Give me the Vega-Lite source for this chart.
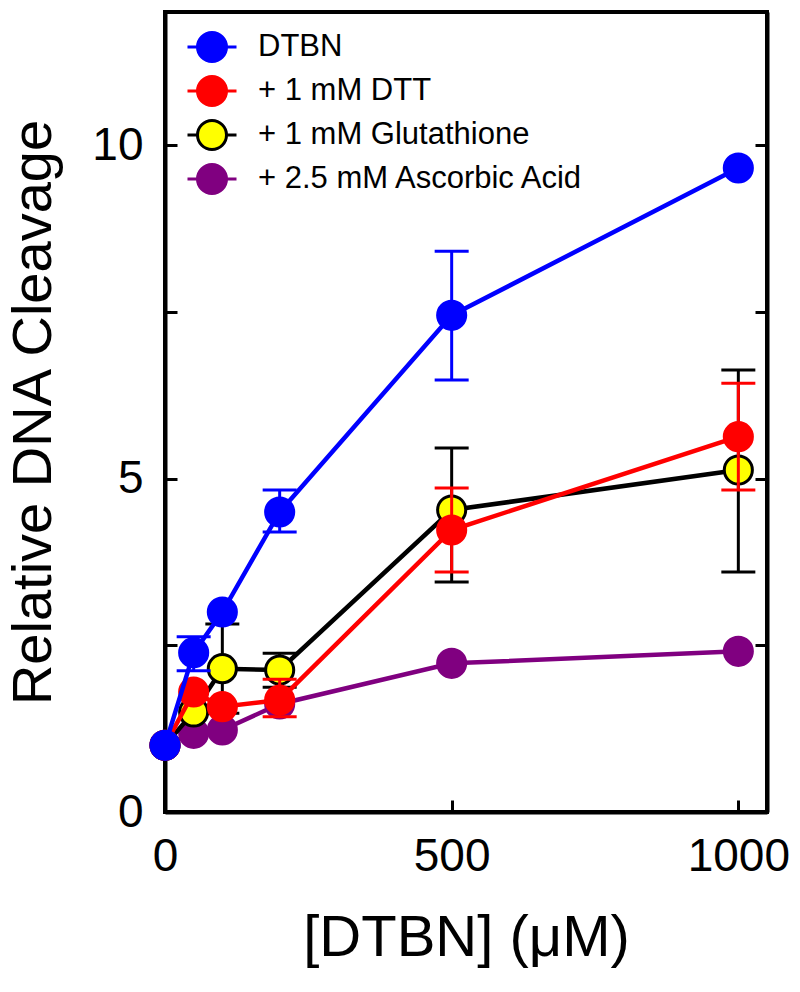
{
  "$schema": "https://vega.github.io/schema/vega-lite/v6.json",
  "width": 602,
  "height": 800,
  "autosize": "none",
  "padding": {"left": 165, "top": 12, "right": 33, "bottom": 180},
  "background": "white",
  "config": {
    "font": "Liberation Sans",
    "view": {"stroke": "black", "strokeWidth": 4},
    "tick": {"opacity": 1},
    "axis": {
      "grid": false,
      "domainColor": "black",
      "domainWidth": 4,
      "tickColor": "black",
      "tickWidth": 3,
      "tickSize": -12,
      "labelColor": "black",
      "labelFontSize": 46,
      "titleColor": "black",
      "titleFontWeight": "normal"
    },
    "legend": {
      "orient": "none",
      "legendX": 31,
      "legendY": 19,
      "direction": "vertical",
      "padding": 0,
      "symbolType": "M-1.69,0L-1,0M1,0L1.69,0M-1,0A1,1,0,1,1,1,0A1,1,0,1,1,-1,0Z",
      "symbolSize": 841,
      "symbolStrokeWidth": 3,
      "symbolOpacity": 1,
      "labelFontSize": 31,
      "labelColor": "black",
      "labelOffset": 30,
      "labelLimit": 0,
      "rowPadding": 2
    }
  },
  "data": {
    "values": [
      {"s": "+ 2.5 mM Ascorbic Acid", "x": 0, "y": 1.0},
      {"s": "+ 2.5 mM Ascorbic Acid", "x": 50, "y": 1.18},
      {"s": "+ 2.5 mM Ascorbic Acid", "x": 100, "y": 1.23},
      {"s": "+ 2.5 mM Ascorbic Acid", "x": 200, "y": 1.62},
      {"s": "+ 2.5 mM Ascorbic Acid", "x": 500, "y": 2.23},
      {"s": "+ 2.5 mM Ascorbic Acid", "x": 1000, "y": 2.41},
      {"s": "+ 1 mM Glutathione", "x": 0, "y": 1.0},
      {"s": "+ 1 mM Glutathione", "x": 50, "y": 1.5},
      {"s": "+ 1 mM Glutathione", "x": 100, "y": 2.15, "lo": 1.48, "hi": 2.82},
      {"s": "+ 1 mM Glutathione", "x": 200, "y": 2.13, "lo": 1.87, "hi": 2.38},
      {"s": "+ 1 mM Glutathione", "x": 500, "y": 4.53, "lo": 3.45, "hi": 5.46},
      {"s": "+ 1 mM Glutathione", "x": 1000, "y": 5.13, "lo": 3.6, "hi": 6.63},
      {"s": "+ 1 mM DTT", "x": 0, "y": 1.0},
      {"s": "+ 1 mM DTT", "x": 50, "y": 1.8},
      {"s": "+ 1 mM DTT", "x": 100, "y": 1.58},
      {"s": "+ 1 mM DTT", "x": 200, "y": 1.68, "lo": 1.43, "hi": 1.99},
      {"s": "+ 1 mM DTT", "x": 500, "y": 4.23, "lo": 3.6, "hi": 4.86},
      {"s": "+ 1 mM DTT", "x": 1000, "y": 5.63, "lo": 4.83, "hi": 6.43},
      {"s": "DTBN", "x": 0, "y": 1.0},
      {"s": "DTBN", "x": 50, "y": 2.39, "lo": 2.12, "hi": 2.63},
      {"s": "DTBN", "x": 100, "y": 3.0},
      {"s": "DTBN", "x": 200, "y": 4.5, "lo": 4.2, "hi": 4.83},
      {"s": "DTBN", "x": 500, "y": 7.45, "lo": 6.48, "hi": 8.41},
      {"s": "DTBN", "x": 1000, "y": 9.66}
    ]
  },
  "encoding": {
    "x": {
      "field": "x",
      "type": "quantitative",
      "scale": {"domain": [0, 1050], "nice": false, "zero": false},
      "axis": {
        "values": [0, 500, 1000],
        "format": "d",
        "labelFlush": false,
        "labelPadding": 34,
        "title": "[DTBN] (μM)",
        "titleFontSize": 58,
        "titlePadding": 30
      }
    }
  },
  "resolve": {"axis": {"y": "independent"}},
  "layer": [
    {
      "encoding": {
        "y": {
          "field": "y",
          "type": "quantitative",
          "scale": {"domain": [0, 12], "nice": false},
          "axis": {
            "values": [0, 2.5, 5, 7.5, 10],
            "labelExpr": "datum.value % 5 === 0 ? datum.label : ''",
            "labelPadding": 34,
            "title": "Relative DNA Cleavage",
            "titleFontSize": 56,
            "titlePadding": 29
          }
        },
        "stroke": {
          "field": "s",
          "type": "nominal",
          "scale": {
            "domain": ["DTBN", "+ 1 mM DTT", "+ 1 mM Glutathione", "+ 2.5 mM Ascorbic Acid"],
            "range": ["#0000ff", "#ff0000", "#000000", "#800080"]
          },
          "legend": {"title": null}
        }
      },
      "layer": [
        {
          "transform": [{"filter": "datum.s === '+ 2.5 mM Ascorbic Acid'"}],
          "layer": [
            {"mark": {"type": "line", "strokeWidth": 4.5}},
            {"mark": {"type": "point", "filled": true, "size": 790, "strokeWidth": 3, "opacity": 1}, "encoding": {"fill": {"field": "s", "type": "nominal", "scale": {"domain": ["DTBN", "+ 1 mM DTT", "+ 1 mM Glutathione", "+ 2.5 mM Ascorbic Acid"], "range": ["#0000ff", "#ff0000", "#ffff00", "#800080"]}, "legend": {"title": null}}}}
          ]
        },
        {
          "transform": [{"filter": "datum.s === '+ 1 mM Glutathione'"}],
          "layer": [
            {"mark": {"type": "line", "strokeWidth": 4.5}},
            {"mark": {"type": "rule", "strokeWidth": 3}, "encoding": {"y": {"field": "lo", "type": "quantitative"}, "y2": {"field": "hi"}}},
            {"mark": {"type": "tick", "orient": "horizontal", "size": 34, "thickness": 3, "fill": "#000000", "strokeWidth": 0, "opacity": 1}, "encoding": {"y": {"field": "lo", "type": "quantitative"}}},
            {"mark": {"type": "tick", "orient": "horizontal", "size": 34, "thickness": 3, "fill": "#000000", "strokeWidth": 0, "opacity": 1}, "encoding": {"y": {"field": "hi", "type": "quantitative"}}},
            {"mark": {"type": "point", "filled": true, "size": 790, "strokeWidth": 3, "opacity": 1}, "encoding": {"fill": {"field": "s", "type": "nominal", "legend": {"title": null}}}}
          ]
        },
        {
          "transform": [{"filter": "datum.s === '+ 1 mM DTT'"}],
          "layer": [
            {"mark": {"type": "line", "strokeWidth": 4.5}},
            {"mark": {"type": "rule", "strokeWidth": 3}, "encoding": {"y": {"field": "lo", "type": "quantitative"}, "y2": {"field": "hi"}}},
            {"mark": {"type": "tick", "orient": "horizontal", "size": 34, "thickness": 3, "fill": "#ff0000", "strokeWidth": 0, "opacity": 1}, "encoding": {"y": {"field": "lo", "type": "quantitative"}}},
            {"mark": {"type": "tick", "orient": "horizontal", "size": 34, "thickness": 3, "fill": "#ff0000", "strokeWidth": 0, "opacity": 1}, "encoding": {"y": {"field": "hi", "type": "quantitative"}}},
            {"mark": {"type": "point", "filled": true, "size": 790, "strokeWidth": 3, "opacity": 1}, "encoding": {"fill": {"field": "s", "type": "nominal", "legend": {"title": null}}}}
          ]
        },
        {
          "transform": [{"filter": "datum.s === 'DTBN'"}],
          "layer": [
            {"mark": {"type": "line", "strokeWidth": 4.5}},
            {"mark": {"type": "rule", "strokeWidth": 3}, "encoding": {"y": {"field": "lo", "type": "quantitative"}, "y2": {"field": "hi"}}},
            {"mark": {"type": "tick", "orient": "horizontal", "size": 34, "thickness": 3, "fill": "#0000ff", "strokeWidth": 0, "opacity": 1}, "encoding": {"y": {"field": "lo", "type": "quantitative"}}},
            {"mark": {"type": "tick", "orient": "horizontal", "size": 34, "thickness": 3, "fill": "#0000ff", "strokeWidth": 0, "opacity": 1}, "encoding": {"y": {"field": "hi", "type": "quantitative"}}},
            {"mark": {"type": "point", "filled": true, "size": 790, "strokeWidth": 3, "opacity": 1}, "encoding": {"fill": {"field": "s", "type": "nominal", "legend": {"title": null}}}}
          ]
        }
      ]
    },
    {
      "mark": {"type": "point", "opacity": 0},
      "encoding": {
        "y": {
          "field": "y",
          "type": "quantitative",
          "axis": {
            "orient": "right",
            "values": [0, 2.5, 5, 7.5, 10],
            "labels": false,
            "title": null
          }
        }
      }
    }
  ]
}
